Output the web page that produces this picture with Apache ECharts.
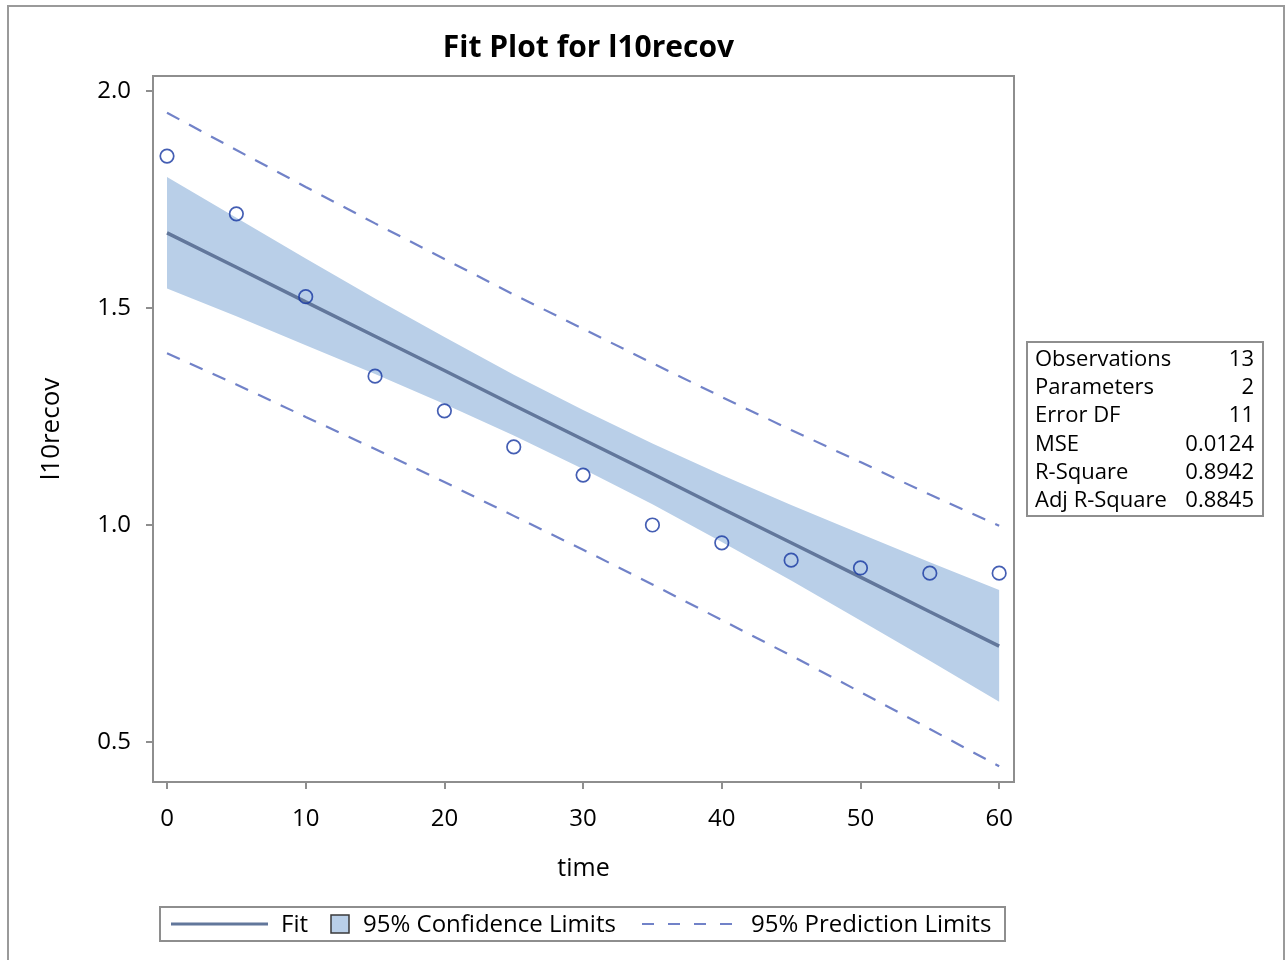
<!DOCTYPE html>
<html>
<head>
<meta charset="utf-8">
<title>Fit Plot for l10recov</title>
<script src="https://cdn.jsdelivr.net/npm/echarts@6/dist/echarts.min.js"></script>
<style>
  html, body { margin: 0; padding: 0; background: #fff; }
  #chart { width: 1285px; height: 960px; }
</style>
</head>
<body>
<div id="chart"></div>
<script>
// Observed values
var time = [0, 5, 10, 15, 20, 25, 30, 35, 40, 45, 50, 55, 60];
var l10recov = [1.850, 1.717, 1.526, 1.343, 1.263, 1.180, 1.115, 1.000, 0.959, 0.919, 0.901, 0.889, 0.889];

// Fitted line and 95% limits at each time
var fit     = [1.673, 1.594, 1.514, 1.435, 1.356, 1.276, 1.197, 1.118, 1.038, 0.959, 0.880, 0.800, 0.721];
var ciLower = [1.545, 1.481, 1.414, 1.348, 1.279, 1.206, 1.129, 1.048, 0.961, 0.872, 0.780, 0.687, 0.593];
var ciUpper = [1.802, 1.708, 1.614, 1.522, 1.433, 1.346, 1.265, 1.188, 1.115, 1.046, 0.980, 0.914, 0.850];
var piLower = [1.396, 1.324, 1.249, 1.175, 1.099, 1.021, 0.943, 0.863, 0.781, 0.699, 0.615, 0.530, 0.444];
var piUpper = [1.950, 1.864, 1.779, 1.695, 1.613, 1.531, 1.452, 1.373, 1.295, 1.219, 1.145, 1.070, 0.998];

// Tick labels
var xTicks = [0, 10, 20, 30, 40, 50, 60];
var yTicks = [0.5, 1.0, 1.5, 2.0];

// Fit statistics table
var statNames  = ['Observations', 'Parameters', 'Error DF', 'MSE', 'R-Square', 'Adj R-Square'];
var statValues = ['13', '2', '11', '0.0124', '0.8942', '0.8845'];

var FONT = '"Open Sans", "Noto Sans", sans-serif';
var AXIS_GRAY = '#8e8e8e';
var FIT_COLOR = '#62779b';
var BAND_COLOR = '#b9cfe8';
var PRED_COLOR = '#7182c8';
var MARK_COLOR = '#1536a0';

function pairs(ys) {
  return time.map(function (t, i) { return [t, ys[i]]; });
}

var chart = echarts.init(document.getElementById('chart'), null, { renderer: 'canvas' });

// Statistics inset
var statChildren = [{
  type: 'rect',
  shape: { x: 0, y: 0, width: 236, height: 174 },
  style: { fill: '#fff', stroke: AXIS_GRAY, lineWidth: 2 }
}];
statNames.forEach(function (name, i) {
  var cy = 17.5 + i * 28.3;
  statChildren.push({
    type: 'text', x: 8, y: cy,
    style: { text: name, font: '22px ' + FONT, fill: '#000', align: 'left', verticalAlign: 'middle' }
  });
  statChildren.push({
    type: 'text', x: 227, y: cy,
    style: { text: statValues[i], font: '22px ' + FONT, fill: '#000', align: 'right', verticalAlign: 'middle' }
  });
});

// Legend box below the plot
var legendChildren = [
  { type: 'rect', shape: { x: 0, y: 0, width: 845, height: 34 },
    style: { fill: '#fff', stroke: AXIS_GRAY, lineWidth: 2 } },
  { type: 'line', shape: { x1: 11, y1: 17, x2: 108, y2: 17 },
    style: { stroke: FIT_COLOR, lineWidth: 3 } },
  { type: 'text', x: 121, y: 18.5,
    style: { text: 'Fit', font: '24px ' + FONT, fill: '#000', verticalAlign: 'middle' } },
  { type: 'rect', shape: { x: 171, y: 8, width: 18, height: 18 },
    style: { fill: BAND_COLOR, stroke: '#3a3a3a', lineWidth: 1.5 } },
  { type: 'text', x: 203, y: 18.5,
    style: { text: '95% Confidence Limits', font: '24px ' + FONT, fill: '#000', verticalAlign: 'middle' } },
  { type: 'line', shape: { x1: 482, y1: 17, x2: 576, y2: 17 },
    style: { stroke: PRED_COLOR, lineWidth: 2, lineDash: [12, 14] } },
  { type: 'text', x: 591, y: 18.5,
    style: { text: '95% Prediction Limits', font: '24px ' + FONT, fill: '#000', verticalAlign: 'middle' } }
];

var option = {
  backgroundColor: '#fff',
  animation: false,
  textStyle: { fontFamily: FONT },
  title: {
    text: 'Fit Plot for l10recov',
    left: 583.5, top: 28, textAlign: 'center',
    textStyle: { fontSize: 30, fontWeight: 'bold', color: '#000', fontFamily: FONT }
  },
  grid: {
    left: 153, top: 76, right: 271, bottom: 178,
    show: true, borderColor: AXIS_GRAY, borderWidth: 2, backgroundColor: '#fff'
  },
  xAxis: {
    type: 'value',
    min: -1.01, max: 61.07,
    name: 'time', nameLocation: 'middle', nameGap: 74,
    nameTextStyle: { fontSize: 25, color: '#000', fontFamily: FONT },
    axisLine: { show: true, onZero: false, lineStyle: { color: AXIS_GRAY, width: 2 } },
    axisTick: { show: true, length: 7, lineStyle: { color: AXIS_GRAY, width: 2 }, customValues: xTicks },
    axisLabel: { fontSize: 24, color: '#000', margin: 25, customValues: xTicks, fontFamily: FONT },
    splitLine: { show: false }
  },
  yAxis: {
    type: 'value',
    min: 0.4078, max: 2.0346,
    name: 'l10recov', nameLocation: 'middle', nameGap: 88, nameRotate: 90,
    nameTextStyle: { fontSize: 26, color: '#000', fontFamily: FONT },
    axisLine: { show: true, onZero: false, lineStyle: { color: AXIS_GRAY, width: 2 } },
    axisTick: { show: true, length: 7, lineStyle: { color: AXIS_GRAY, width: 2 }, customValues: yTicks },
    axisLabel: {
      fontSize: 24, color: '#000', margin: 22, customValues: yTicks, fontFamily: FONT,
      formatter: function (v) { return v.toFixed(1); }
    },
    splitLine: { show: false }
  },
  series: [
    {
      // 95% confidence band as a polygon through the upper then lower limits
      name: '95% Confidence Limits',
      type: 'custom',
      z: 1,
      data: [0],
      renderItem: function (params, api) {
        var pts = [];
        for (var i = 0; i < time.length; i++) pts.push(api.coord([time[i], ciUpper[i]]));
        for (var j = time.length - 1; j >= 0; j--) pts.push(api.coord([time[j], ciLower[j]]));
        return { type: 'polygon', shape: { points: pts }, style: { fill: BAND_COLOR } };
      },
      silent: true
    },
    {
      name: 'Fit', type: 'line', z: 3,
      data: pairs(fit), symbol: 'none',
      lineStyle: { color: FIT_COLOR, width: 3.5 }
    },
    {
      name: '95% Prediction Limits', type: 'line', z: 3,
      data: pairs(piUpper), symbol: 'none',
      lineStyle: { color: PRED_COLOR, width: 2.2, type: [14, 11] }
    },
    {
      name: '95% Prediction Limits (lower)', type: 'line', z: 3,
      data: pairs(piLower), symbol: 'none',
      lineStyle: { color: PRED_COLOR, width: 2.2, type: [14, 11] }
    },
    {
      name: 'l10recov', type: 'scatter', z: 5,
      data: pairs(l10recov),
      symbol: 'circle', symbolSize: 13.5,
      itemStyle: { color: 'rgba(255,255,255,0)', borderColor: MARK_COLOR, borderWidth: 1.7 }
    }
  ],
  graphic: [
    {
      type: 'rect', z: -1,
      shape: { x: 8, y: 6, width: 1276, height: 1000 },
      style: { fill: 'none', stroke: '#9a9a9a', lineWidth: 2 },
      silent: true
    },
    { type: 'group', x: 1027, y: 342, children: statChildren },
    { type: 'group', x: 160, y: 907, children: legendChildren }
  ]
};

chart.setOption(option);
</script>
</body>
</html>
